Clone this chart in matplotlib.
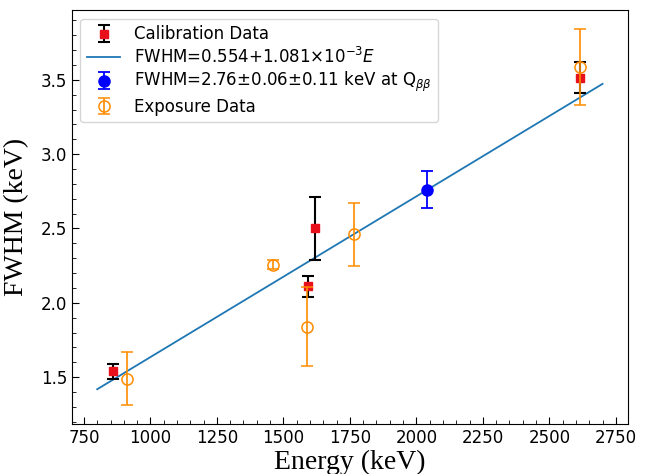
import matplotlib
matplotlib.use("Agg")
import matplotlib.pyplot as plt
import numpy as np
from matplotlib.ticker import AutoMinorLocator

# Calibration peaks
cal_energy = [860.6, 1592.5, 1620.5, 2614.5]
cal_fwhm = [1.54, 2.11, 2.50, 3.515]
cal_err = [0.05, 0.07, 0.215, 0.105]

# Resolution at Q_bb
qbb_energy = [2039.0]
qbb_fwhm = [2.76]
qbb_err = [0.125]

# Exposure (physics data) peaks
exp_energy = [911.2, 1460.8, 1588.2, 1764.5, 2614.5]
exp_fwhm = [1.49, 2.255, 1.84, 2.46, 3.585]
exp_err = [0.18, 0.03, 0.265, 0.21, 0.255]

# Linear resolution model
fit_a = 0.554
fit_b = 1.081e-3
fit_range = [800, 2700]

fig = plt.figure(figsize=(6.54, 4.74), dpi=100)
ax = fig.add_axes([0.110, 0.105, 0.850, 0.873])

h_cal = ax.errorbar(cal_energy, cal_fwhm, yerr=cal_err, fmt='s', color='#e8101a',
                    ecolor='black', elinewidth=1.5, capsize=4, capthick=1.5,
                    markersize=6, label='Calibration Data', zorder=3)
E = np.linspace(fit_range[0], fit_range[1], 200)
h_fit, = ax.plot(E, fit_a + fit_b * E, color='#1f77b4', lw=1.3,
                 label=r'FWHM=0.554+1.081$\times$10$^{-3}$$E$', zorder=2)
h_qbb = ax.errorbar(qbb_energy, qbb_fwhm, yerr=qbb_err, fmt='o', color='blue',
                    ecolor='blue', elinewidth=1.3, capsize=4, capthick=1.3,
                    markersize=8,
                    label=r'FWHM=2.76$\pm$0.06$\pm$0.11 keV at Q$_{\beta\beta}$',
                    zorder=3)
h_exp = ax.errorbar(exp_energy, exp_fwhm, yerr=exp_err, fmt='o', mfc='none',
                    color='darkorange', ecolor='darkorange', elinewidth=1.2,
                    capsize=4, capthick=1.3, markersize=8, markeredgewidth=1.1,
                    label='Exposure Data', zorder=4)

ax.set_xticks([750, 1000, 1250, 1500, 1750, 2000, 2250, 2500, 2750])
ax.set_yticks([1.5, 2.0, 2.5, 3.0, 3.5])
ax.xaxis.set_minor_locator(AutoMinorLocator(5))
ax.yaxis.set_minor_locator(AutoMinorLocator(5))
ax.tick_params(which='both', direction='in', labelsize=12)
ax.tick_params(which='major', length=5)
ax.tick_params(which='minor', length=3)

serif = ['Liberation Serif', 'DejaVu Serif']
ax.set_xlabel('Energy (keV)', fontsize=20, family=serif, labelpad=2)
ax.set_ylabel('FWHM (keV)', fontsize=20, family=serif, labelpad=8)

handles = [h_cal, h_fit, h_qbb, h_exp]
ax.legend(handles, [h.get_label() for h in handles], loc='upper left',
          fontsize=12, frameon=True, handlelength=2.0,
          borderpad=0.4, labelspacing=0.2)

fig.savefig('out.png', dpi=100)
